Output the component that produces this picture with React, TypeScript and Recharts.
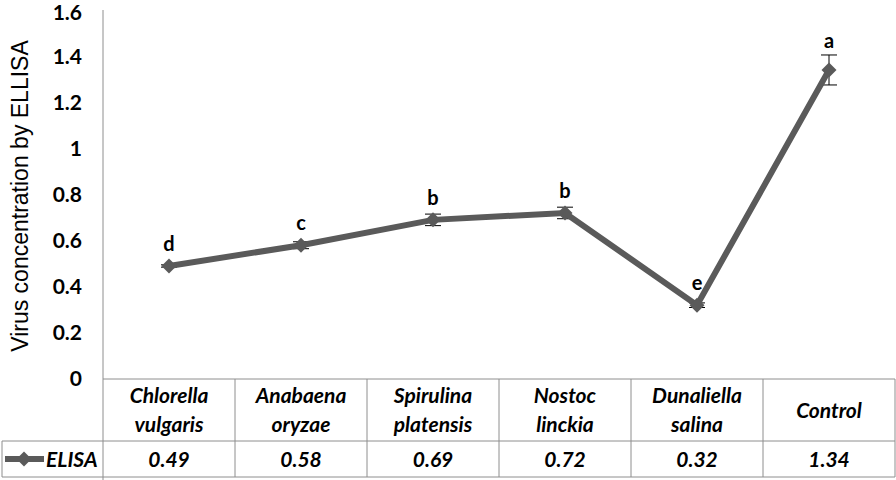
import { ComposedChart, Line, XAxis, YAxis, ErrorBar } from 'recharts';

const CATEGORIES = [
  'Chlorella vulgaris',
  'Anabaena oryzae',
  'Spirulina platensis',
  'Nostoc linckia',
  'Dunaliella salina',
  'Control',
];
const ELISA = [0.49, 0.58, 0.69, 0.72, 0.32, 1.34];
const ERRORS = [0.005, 0.015, 0.025, 0.025, 0.01, 0.065];
const LETTERS = ['d', 'c', 'b', 'b', 'e', 'a'];
const Y_TICKS = [0, 0.2, 0.4, 0.6, 0.8, 1, 1.2, 1.4, 1.6];

const W = 896;
const H = 480;
const PLOT_LEFT = 103;
const PLOT_TOP = 10;
const AXIS_Y = 379;
const ROW_Y = 441;
const TABLE_BOTTOM = 477;
const COL_W = (W - 1 - PLOT_LEFT) / CATEGORIES.length;
const PX_PER_UNIT = (AXIS_Y - PLOT_TOP) / 1.6;

const LINE_COLOR = '#5a5a5a';
const GRID_COLOR = '#8e8e8e';
const FONT = 'Lato, "Liberation Sans", sans-serif';

const data = CATEGORIES.map((name, i) => ({
  name,
  value: ELISA[i],
  err: ERRORS[i],
}));

const Diamond = ({ cx, cy }: any) => {
  if (cx == null || cy == null) return null;
  const r = 7.5;
  return (
    <polygon
      points={`${cx},${cy - r} ${cx + r},${cy} ${cx},${cy + r} ${cx - r},${cy}`}
      fill={LINE_COLOR}
    />
  );
};

const LetterLabel = ({ x, y, index }: any) => {
  const errPx = ERRORS[index] * PX_PER_UNIT;
  return (
    <text
      x={x}
      y={y - Math.max(15, errPx + 7)}
      textAnchor='middle'
      fontFamily={FONT}
      fontWeight='bold'
      fontSize={20}
      fill='#000'
    >
      {LETTERS[index]}
    </text>
  );
};

const cellText = {
  textAnchor: 'middle' as const,
  fontFamily: FONT,
  fontWeight: 'bold',
  fontStyle: 'italic',
  fontSize: 21,
  fill: '#000',
};

const TableTick = ({ x, index }: any) => {
  const name = CATEGORIES[index];
  const words = name.split(' ');
  const left = x - COL_W / 2;
  const right = x + COL_W / 2;
  return (
    <g>
      {words.length > 1 ? (
        <text {...cellText}>
          <tspan x={x} y={403}>
            {words[0]}
          </tspan>
          <tspan x={x} y={432}>
            {words.slice(1).join(' ')}
          </tspan>
        </text>
      ) : (
        <text x={x} y={418} {...cellText}>
          {name}
        </text>
      )}
      <text x={x} y={467} {...cellText}>
        {ELISA[index].toFixed(2)}
      </text>
      <line x1={right} y1={AXIS_Y} x2={right} y2={TABLE_BOTTOM} stroke={GRID_COLOR} />
      <line x1={left} y1={ROW_Y} x2={right} y2={ROW_Y} stroke={GRID_COLOR} />
      <line x1={left} y1={TABLE_BOTTOM} x2={right} y2={TABLE_BOTTOM} stroke={GRID_COLOR} />
      {index === 0 && (
        <g>
          {/* left axis running down through the table, and the legend cell */}
          <line x1={PLOT_LEFT} y1={AXIS_Y} x2={PLOT_LEFT} y2={H} stroke={GRID_COLOR} />
          <line x1={2} y1={ROW_Y} x2={PLOT_LEFT} y2={ROW_Y} stroke={GRID_COLOR} />
          <line x1={2} y1={TABLE_BOTTOM} x2={PLOT_LEFT} y2={TABLE_BOTTOM} stroke={GRID_COLOR} />
          <line x1={2} y1={ROW_Y} x2={2} y2={TABLE_BOTTOM} stroke={GRID_COLOR} />
          <line x1={5} y1={459} x2={44} y2={459} stroke={LINE_COLOR} strokeWidth={6} />
          <Diamond cx={24} cy={459} />
          <text {...cellText} textAnchor='start' x={46} y={467}>
            ELISA
          </text>
        </g>
      )}
    </g>
  );
};

export default function App() {
  return (
    <div style={{ position: 'absolute', left: 0, top: 0, width: W, height: H, background: '#fff' }}>
      <ComposedChart
        width={W}
        height={H}
        data={data}
        margin={{ top: PLOT_TOP, right: 1, bottom: 0, left: 0 }}
      >
        <XAxis
          dataKey='name'
          scale='band'
          height={H - AXIS_Y}
          stroke={GRID_COLOR}
          tickLine={false}
          tickSize={0}
          tickMargin={0}
          interval={0}
          tick={<TableTick />}
        />
        <YAxis
          domain={[0, 1.6]}
          ticks={Y_TICKS}
          width={PLOT_LEFT}
          stroke={GRID_COLOR}
          tickLine={false}
          tickSize={0}
          tickMargin={21}
          tick={{ fill: '#000', fontFamily: FONT, fontWeight: 'bold', fontSize: 21 }}
          label={{
            content: () => (
              <text
                x={0}
                y={0}
                transform='translate(28 196) rotate(-90)'
                textAnchor='middle'
                fontFamily='"Liberation Sans", Arial, sans-serif'
                fontSize={23}
                fill='#000'
              >
                Virus concentration by ELLISA
              </text>
            ),
          }}
        />
        <Line
          type='linear'
          dataKey='value'
          stroke={LINE_COLOR}
          strokeWidth={6}
          dot={<Diamond />}
          activeDot={false}
          label={<LetterLabel />}
          isAnimationActive={false}
        >
          <ErrorBar dataKey='err' width={8} stroke='#000' strokeWidth={1} direction='y' />
        </Line>
      </ComposedChart>
    </div>
  );
}
